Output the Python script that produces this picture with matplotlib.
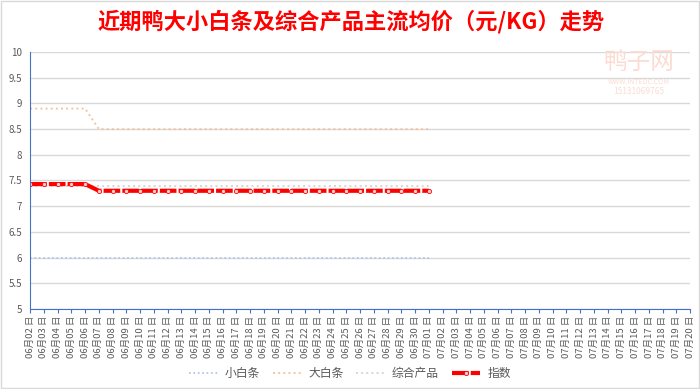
import numpy as np
import matplotlib.pyplot as plt
from matplotlib.patches import Rectangle

plt.rcParams['font.family'] = ['Noto Sans CJK SC', 'DejaVu Sans']

# dates on the category axis
dates = ['06月%02d 日' % d for d in range(2, 31)] + ['07月%02d 日' % d for d in range(1, 21)]

# prices, 06-02 .. 07-01 (30 days)
small_white = [6.0] * 30
big_white = [8.9] * 5 + [8.5] * 25
combined = [7.4] * 30
index_vals = [7.43] * 5 + [7.3] * 25

fig = plt.figure(figsize=(7, 3.89), dpi=100)
ax = fig.add_axes([0.043, 0.206, 0.943, 0.66])

x = np.arange(len(small_white))
ax.plot(x, small_white, ':', color='#a9c0e6', lw=1.2, label='小白条')
ax.plot(x, big_white, ':', color='#f6c3a0', lw=1.4, label='大白条')
ax.plot(x, combined, ':', color='#d6d6d6', lw=1.4, label='综合产品')
ax.plot(x, index_vals, '--', color='#ff0000', lw=3, dashes=(4, 0.5),
        marker='o', markersize=3, markerfacecolor='#ffd0d0', markeredgecolor='#ff0000',
        markeredgewidth=0.6, label='指数')

ax.set_xlim(0, len(dates) - 1)
ax.set_ylim(5, 10)
ax.set_yticks(np.arange(5, 10.01, 0.5))
ax.set_yticklabels(['5', '5.5', '6', '6.5', '7', '7.5', '8', '8.5', '9', '9.5', '10'])
ax.set_xticks(range(len(dates)))
ax.set_xticklabels(dates, rotation=90, fontsize=6.8, color='#595959')
ax.tick_params(axis='y', labelsize=7, labelcolor='#595959', length=0, pad=6)
ax.tick_params(axis='x', length=3, color='#4472c4', pad=2)
ax.grid(axis='y', color='#d9d9d9', lw=1)
ax.set_axisbelow(True)
for s in ['top', 'right']:
    ax.spines[s].set_visible(False)
ax.spines['left'].set_color('#4472c4')
ax.spines['bottom'].set_color('#4472c4')

leg = fig.legend(loc='center', bbox_to_anchor=(0.5, 0.04), ncol=4, frameon=False,
                 fontsize=8.5, handlelength=2.4, columnspacing=1.1, handletextpad=0.6)
for t in leg.get_texts():
    t.set_color('#595959')

fig.text(0.502, 0.945, '近期鸭大小白条及综合产品主流均价（元/KG）走势', ha='center', va='center',
         fontsize=16, color='#ff0000', fontweight='bold')

# watermark
fig.text(0.912, 0.84, '鸭子网', ha='center', va='center', fontsize=17, color='#fbdcd3')
fig.text(0.912, 0.79, 'WWW.INTEDC.COM', ha='center', va='center', fontsize=5, color='#fbdcd3')
fig.text(0.912, 0.765, '15131069765', ha='center', va='center', fontsize=6, color='#fbdcd3')

fig.patches.append(Rectangle((0.002, 0.002), 0.996, 0.996, transform=fig.transFigure,
                             fill=False, edgecolor='#d9d9d9', lw=1))

fig.savefig('out.png', dpi=100)
